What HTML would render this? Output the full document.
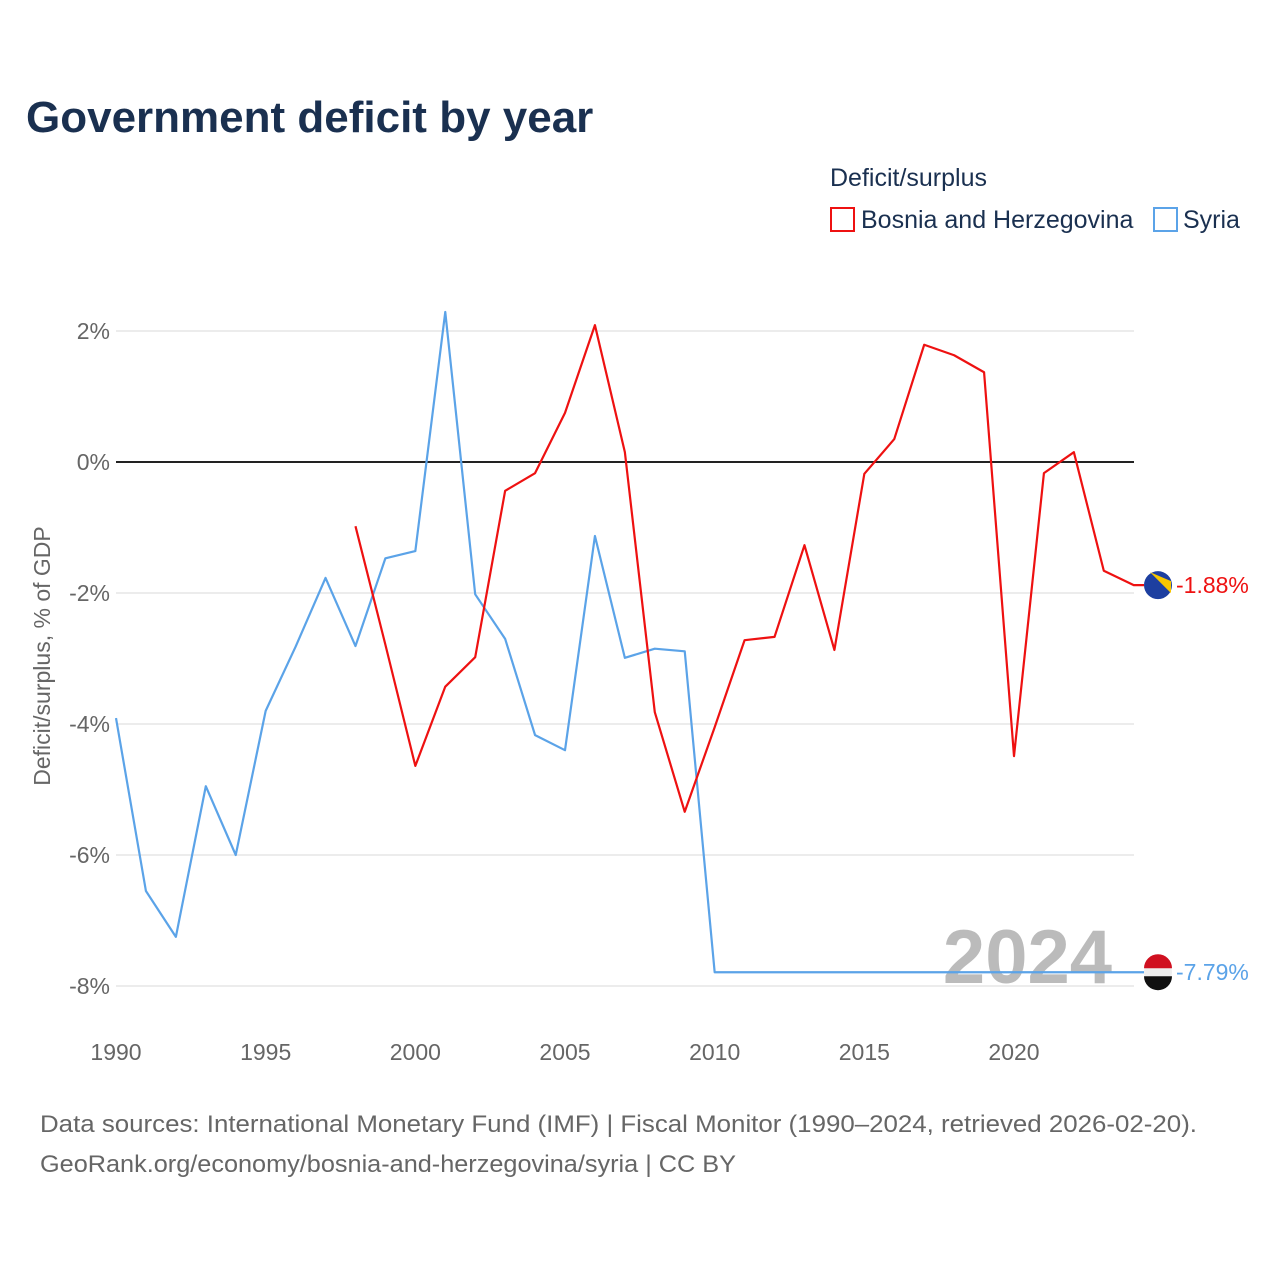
<!DOCTYPE html>
<html><head><meta charset="utf-8">
<style>
body{margin:0;background:#fff;}
svg{display:block;font-family:"Liberation Sans",sans-serif;}
</style></head>
<body>
<svg id="chart" width="1280" height="1280" viewBox="0 0 1280 1280">
<text x="26" y="132" font-size="44" font-weight="bold" fill="#1a3050">Government deficit by year</text>
<text x="830" y="186" font-size="25" fill="#1a3050">Deficit/surplus</text>
<g>
<rect x="831" y="208" width="23" height="23" fill="none" stroke="#ee1111" stroke-width="2"/>
<text x="861" y="228" font-size="25" fill="#1a3050">Bosnia and Herzegovina</text></g>
<g>
<rect x="1154" y="208" width="23" height="23" fill="none" stroke="#5ba3e8" stroke-width="2"/>
<text x="1183" y="228" font-size="25" fill="#1a3050">Syria</text></g>
<text transform="translate(50,656) rotate(-90)" text-anchor="middle" font-size="23" fill="#666">Deficit/surplus, % of GDP</text>
<g id="grid"></g><g id="yticks"></g><g id="xticks"></g>
<text x="1112" y="983" text-anchor="end" font-size="76" font-weight="bold" fill="#bbb">2024</text>
<g id="lines"></g>
<text x="40" y="1132" font-size="24" fill="#666" textLength="1157" lengthAdjust="spacingAndGlyphs">Data sources: International Monetary Fund (IMF) | Fiscal Monitor (1990–2024, retrieved 2026-02-20).</text>
<text x="40" y="1172" font-size="24" fill="#666" textLength="696" lengthAdjust="spacingAndGlyphs">GeoRank.org/economy/bosnia-and-herzegovina/syria | CC BY</text>
</svg>
<script>
const syriaYears=[1990,1991,1992,1993,1994,1995,1996,1997,1998,1999,2000,2001,2002,2003,2004,2005,2006,2007,2008,2009,2010,2011,2012,2013,2014,2015,2016,2017,2018,2019,2020,2021,2022,2023,2024];
const syriaValues=[-3.91,-6.55,-7.25,-4.95,-6.0,-3.8,-2.82,-1.77,-2.81,-1.47,-1.36,2.29,-2.02,-2.70,-4.17,-4.40,-1.13,-2.99,-2.85,-2.89,-7.79,-7.79,-7.79,-7.79,-7.79,-7.79,-7.79,-7.79,-7.79,-7.79,-7.79,-7.79,-7.79,-7.79,-7.79];
const bihYears=[1998,1999,2000,2001,2002,2003,2004,2005,2006,2007,2008,2009,2010,2011,2012,2013,2014,2015,2016,2017,2018,2019,2020,2021,2022,2023,2024];
const bihValues=[-0.98,-2.79,-4.64,-3.43,-2.98,-0.44,-0.17,0.75,2.09,0.15,-3.82,-5.34,-4.05,-2.72,-2.67,-1.27,-2.87,-0.18,0.35,1.79,1.63,1.37,-4.49,-0.17,0.15,-1.66,-1.88];
const yTicks=[2,0,-2,-4,-6,-8];
const yTickLabels=["2%","0%","-2%","-4%","-6%","-8%"];
const xTicks=[1990,1995,2000,2005,2010,2015,2020];
const NS="http://www.w3.org/2000/svg";
const X=y=>116+(y-1990)*(898/30);
const Y=v=>462-v*65.5;
function mk(tag,attrs,parent){const e=document.createElementNS(NS,tag);for(const k in attrs)e.setAttribute(k,attrs[k]);document.getElementById(parent).appendChild(e);return e;}
yTicks.forEach((t,i)=>{
 const g=mk('line',{x1:116,x2:1134,y1:Y(t),y2:Y(t),stroke:t===0?'#222':'#e6e6e6','stroke-width':t===0?2:1.5},'grid');
 
 
 const l=mk('text',{x:110,y:Y(t)+8,'text-anchor':'end','font-size':23,fill:'#666'},'yticks');
 l.textContent=yTickLabels[i];
 
 
});
xTicks.forEach(t=>{
 const l=mk('text',{x:X(t),y:1060,'text-anchor':'middle','font-size':23,fill:'#666'},'xticks');
 l.textContent=t;
 
 
});
function series(years,vals,color,name,extend){
 let pts=years.map((y,i)=>X(y)+','+Y(vals[i]));
 if(extend)pts.push(extend+','+Y(vals[vals.length-1]));
 const p=mk('polyline',{points:pts.join(' '),fill:'none',stroke:color,'stroke-width':2.2,'stroke-linejoin':'round'},'lines');
 
 
}
series(syriaYears,syriaValues,'#5ba3e8','syria',1144);
series(bihYears,bihValues,'#ee1111','bosnia',1144);
function endLabel(vals,color,name,flag){
 const v=vals[vals.length-1],cy=Y(v);
 const c=mk('circle',{cx:1158,cy:cy,r:14,fill:flag},'lines');
 
 
 const t=mk('text',{x:1176,y:cy+8,'font-size':23,fill:color},'lines');
 t.textContent=v.toFixed(2)+'%';
 
 
}
endLabel(bihValues,'#ee1111','bosnia','#1d3fa0');
endLabel(syriaValues,'#5ba3e8','syria','#eee');
const s=Y(syriaValues[syriaValues.length-1]);
const a=mk('path',{d:`M1144,${s-4} A14,14 0 0 1 1172,${s-4} Z`,fill:'#d01020'},'lines');


const b=mk('path',{d:`M1144,${s+4} A14,14 0 0 0 1172,${s+4} Z`,fill:'#111'},'lines');


const bb=Y(bihValues[bihValues.length-1]);
const y2=mk('path',{d:`M1150,${bb-13} L1171,${bb-4} L1171,${bb+8} Z`,fill:'#f7c600'},'lines');


</script>
</body></html>
